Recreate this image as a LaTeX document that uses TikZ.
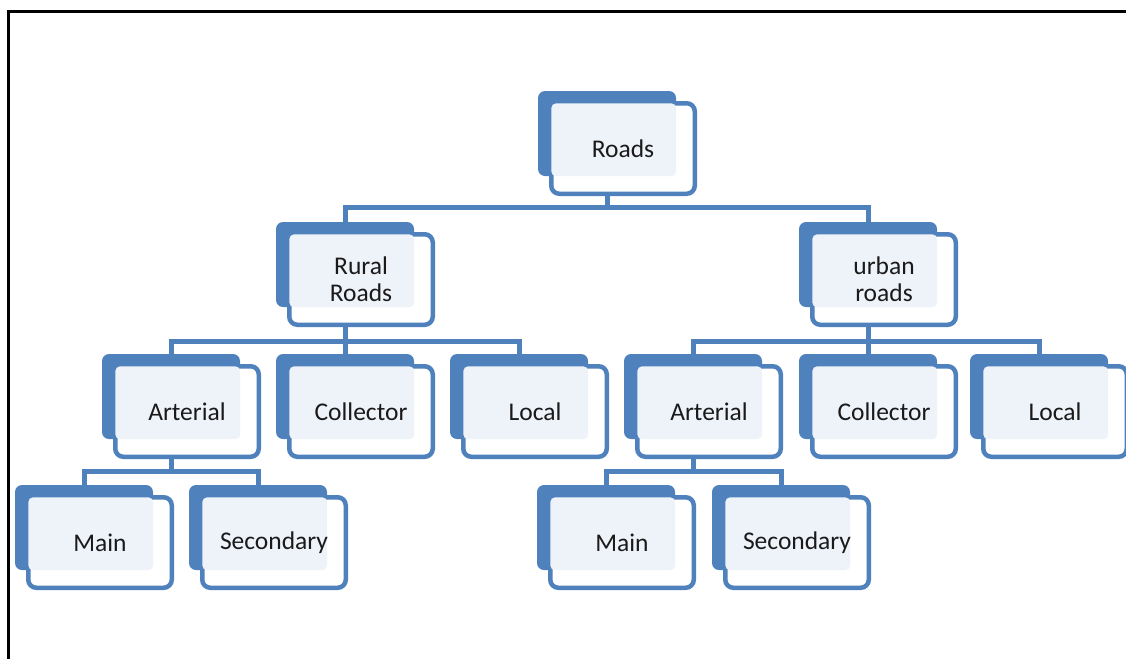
\documentclass[tikz,border=0pt]{standalone}
\usepackage{fontspec}
\setmainfont{Carlito}
\definecolor{sablue}{HTML}{4F81BD}
\definecolor{salight}{HTML}{EEF2F9}
\definecolor{satext}{HTML}{1A1A1A}
\tikzset{
  backbox/.style={fill=sablue, rounded corners=7pt, minimum width=138pt, minimum height=85pt, inner sep=0pt},
  frontbox/.style={draw=sablue, fill=white, line width=4.5pt, rounded corners=8pt, minimum width=143.5pt, minimum height=90.5pt, inner sep=0pt},
  lbl/.style={text=satext, align=center, inner sep=0pt, font=\fontsize{25.5}{27}\selectfont},
  conn/.style={draw=sablue, line width=5pt},
  frame/.style={draw=black, line width=3pt}
}
\pgfdeclarelayer{bg}
\pgfsetlayers{bg,main}
\newcommand\rbox[4]{%
  \node[backbox] (#1-b) at (#2+69,#3+42.5) {};
  \node[frontbox] (#1) at (#2+85,#3+57.5) {};
  \fill[salight, rounded corners=5pt] ([shift={(2.25,2.25)}]#1.north west) rectangle (#1-b.south east);
  \node[lbl] (#1-t) at (#1.center) {#4};
}
\begin{document}
\begin{tikzpicture}[x=1pt, y=-1pt]
\useasboundingbox (0,0) rectangle (1126,659);
\coordinate (roads-bar) at (609,207);
\coordinate (rural-bar) at (345,341);
\coordinate (urban-bar) at (868,341);
\coordinate (artL-bar) at (171,471);
\coordinate (artR-bar) at (693,471);
\rbox{roads}{538}{91}{Roads}
\rbox{rural}{276}{222}{Rural\\Roads}
\rbox{urban}{799}{222}{urban\\roads}
\rbox{artL}{102}{354}{Arterial}
\rbox{colL}{276}{354}{Collector}
\rbox{locL}{450}{354}{Local}
\rbox{artR}{624}{354}{Arterial}
\rbox{colR}{799}{354}{Collector}
\rbox{locR}{970}{354}{Local}
\rbox{mainL}{15}{485}{Main}
\rbox{secL}{189}{485}{Secondary}
\rbox{mainR}{537}{485}{Main}
\rbox{secR}{712}{485}{Secondary}
\begin{pgfonlayer}{bg}
\draw[conn] (roads-b.center |- roads.south) -- (roads-b.center |- roads-bar);
\draw[conn] (rural-b.north) -- (rural-b.north |- roads-bar) -- (urban-b.north |- roads-bar) -- (urban-b.north);
\draw[conn] (rural-b.center |- rural.south) -- (rural-b.center |- rural-bar);
\draw[conn] (artL-b.north) -- (artL-b.north |- rural-bar) -- (locL-b.north |- rural-bar) -- (locL-b.north);
\draw[conn] (colL-b.north) -- (colL-b.north |- rural-bar);
\draw[conn] (urban-b.center |- urban.south) -- (urban-b.center |- urban-bar);
\draw[conn] (artR-b.north) -- (artR-b.north |- urban-bar) -- (locR-b.north |- urban-bar) -- (locR-b.north);
\draw[conn] (colR-b.north) -- (colR-b.north |- urban-bar);
\draw[conn] (artL-b.center |- artL.south) -- (artL-b.center |- artL-bar);
\draw[conn] (mainL-b.north) -- (mainL-b.north |- artL-bar) -- (secL-b.north |- artL-bar) -- (secL-b.north);
\draw[conn] (artR-b.center |- artR.south) -- (artR-b.center |- artR-bar);
\draw[conn] (mainR-b.north) -- (mainR-b.north |- artR-bar) -- (secR-b.north |- artR-bar) -- (secR-b.north);
\end{pgfonlayer}
\draw[frame] (8,659) -- (8,11) -- (1126,11);
\end{tikzpicture}
\end{document}
